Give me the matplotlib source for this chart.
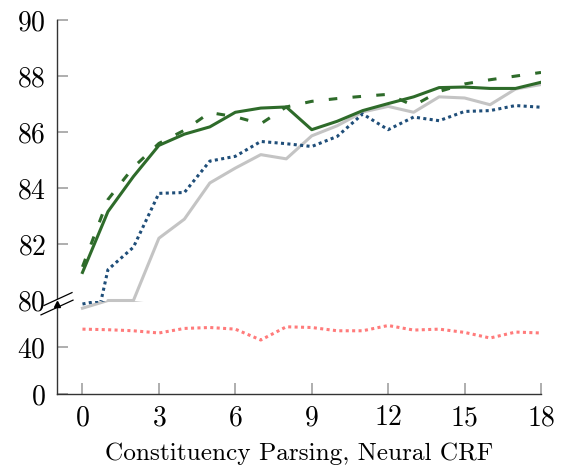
import matplotlib
matplotlib.use("Agg")
import matplotlib.pyplot as plt
from matplotlib.lines import Line2D
from matplotlib.patches import Polygon

plt.rcParams['font.family'] = ['cmr10', 'DejaVu Serif']
plt.rcParams['axes.formatter.use_mathtext'] = True
plt.rcParams['mathtext.fontset'] = 'cm'

# ---- data ----
steps = list(range(19))
solid_green = [81.0, 83.17, 84.42, 85.53, 85.93, 86.19, 86.71, 86.86, 86.90, 86.09,
               86.39, 86.77, 87.02, 87.26, 87.59, 87.61, 87.56, 87.56, 87.78]
dashed_green = [81.2, 83.6, 84.75, 85.6, 86.07, 86.7, 86.55, 86.3, 86.9, 87.1,
                87.2, 87.28, 87.35, 86.95, 87.45, 87.72, 87.87, 88.0, 88.13]
dotted_blue = [77.0, 81.1, 81.9, 83.82, 83.85, 84.97, 85.14, 85.67, 85.59, 85.49,
               85.85, 86.65, 86.09, 86.54, 86.41, 86.74, 86.77, 86.95, 86.89]
solid_gray = [73.4, 80.0, 80.0, 82.22, 82.9, 84.19, 84.72, 85.2, 85.05, 85.87,
              86.23, 86.72, 86.92, 86.71, 87.26, 87.22, 86.98, 87.54, 87.7]
dotted_pink = [55.5, 55.0, 54.1, 52.2, 56.1, 56.9, 55.5, 46.2, 57.5, 56.9,
               54.1, 54.1, 58.6, 54.7, 55.5, 52.7, 47.9, 53.0, 52.2]

xticks = [0, 3, 6, 9, 12, 15, 18]
upper_yticks = [80, 82, 84, 86, 88, 90]
lower_yticks = [0, 40]
xlabel = "Constituency Parsing, Neural CRF"

W, H = 565, 472
fig = plt.figure(figsize=(W / 100, H / 100), dpi=100)

left = 57 / W
width = (541 - 57) / W
y_top, y_mid, y_bot = 20, 300.5, 394
ax_up = fig.add_axes([left, 1 - y_mid / H, width, (y_mid - y_top) / H])
ax_lo = fig.add_axes([left, 1 - y_bot / H, width, (y_bot - y_mid) / H])

green = '#2e6b2a'
blue = '#1f4e79'
gray = '#c4c4c4'
pink = '#ff7b7b'
lw = 2.2

series = [
    (solid_gray, dict(color=gray, lw=lw, ls='-')),
    (dotted_pink, dict(color=pink, lw=lw, ls=(0, (1, 1.1)))),
    (dotted_blue, dict(color=blue, lw=lw, ls=(0, (1, 1.1)))),
    (dashed_green, dict(color=green, lw=lw, ls=(0, (2.8, 5.0)))),
    (solid_green, dict(color=green, lw=lw, ls='-')),
]
for ax in (ax_up, ax_lo):
    for vals, kw in series:
        ax.plot(steps, vals, **kw)
    ax.set_xlim(-1, 18)
    for s in ('top', 'right'):
        ax.spines[s].set_visible(False)
    ax.spines['left'].set_color('#333333')
    ax.spines['bottom'].set_color('#333333')
    ax.spines['left'].set_linewidth(1.0)
    ax.spines['bottom'].set_linewidth(1.0)
    ax.tick_params(direction='in', length=8, width=1.1, color='#999999',
                   labelsize=20, labelcolor='black', pad=8)
    ax.patch.set_alpha(0)

ax_up.set_ylim(80, 90)
ax_up.set_yticks(upper_yticks)
ax_up.spines['bottom'].set_visible(False)
ax_up.tick_params(axis='x', bottom=False, labelbottom=False)

ax_lo.set_ylim(0, 80)
ax_lo.set_yticks(lower_yticks)
ax_lo.set_xticks(xticks)
ax_lo.set_xlabel(xlabel, fontsize=18.2, labelpad=8)

# hide 80 tick mark (break marker sits there)
ax_up.yaxis.get_major_ticks()[0].tick1line.set_visible(False)

# axis break marker
def fp(px, py):
    return (px / W, 1 - py / H)

slope = -0.46
def pt(x0, y0, x):
    return fp(x, y0 + slope * (x - x0))

up_a, up_b = pt(57, 299.5, 44), pt(57, 299.5, 72)
lo_a, lo_b = pt(57, 307.5, 41), pt(57, 307.5, 73)
poly = Polygon([up_a, up_b, lo_b, lo_a], closed=True, transform=fig.transFigure,
               facecolor='white', edgecolor='none', zorder=10)
fig.add_artist(poly)
for a, b in ((up_a, up_b), (lo_a, lo_b)):
    fig.add_artist(Line2D([a[0], b[0]], [a[1], b[1]], transform=fig.transFigure,
                          color='black', lw=0.9, zorder=11))
tri = fp(57, 304)
fig.add_artist(Line2D([tri[0]], [tri[1]], transform=fig.transFigure, marker='^',
                      markersize=4, color='black', lw=0, zorder=12))

fig.savefig('out.png', dpi=100)
